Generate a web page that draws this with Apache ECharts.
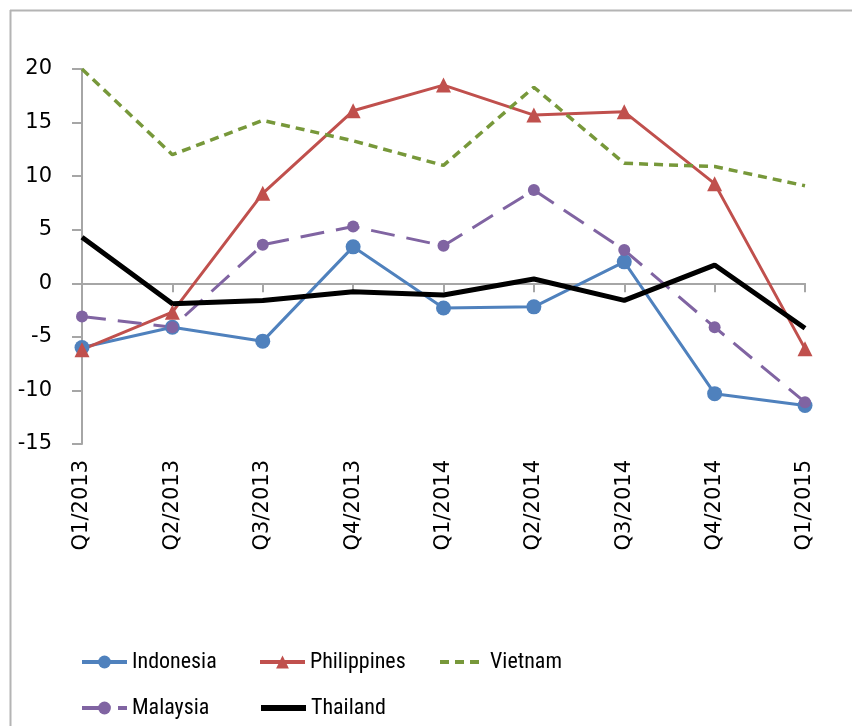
<!DOCTYPE html>
<html>
<head>
<meta charset="utf-8">
<script src="https://cdn.jsdelivr.net/npm/echarts@6/dist/echarts.min.js"></script>
<style>
  html, body { margin: 0; padding: 0; background: #fff; }
  #chart { width: 852px; height: 726px; }
</style>
</head>
<body>
<div id="chart"></div>
<script>
  // quarters on the x axis
  var quarters = ['Q1/2013', 'Q2/2013', 'Q3/2013', 'Q4/2013', 'Q1/2014', 'Q2/2014', 'Q3/2014', 'Q4/2014', 'Q1/2015']
  // values
  var indonesia = [-6.0, -4.1, -5.4, 3.4, -2.3, -2.2, 2.0, -10.3, -11.4]
  var philippines = [-6.2, -2.7, 8.4, 16.1, 18.5, 15.7, 16.0, 9.3, -6.1]
  var vietnam = [20.0, 12.0, 15.2, 13.3, 11.0, 18.3, 11.2, 10.9, 9.1]
  var malaysia = [-3.1, -4.1, 3.6, 5.3, 3.5, 8.7, 3.1, -4.1, -11.1]
  var thailand = [4.3, -1.9, -1.6, -0.8, -1.1, 0.4, -1.6, 1.7, -4.2]
  var yTicks = { min: -15, max: 20, step: 5 }

  var chart = echarts.init(document.getElementById('chart'))
  var axisGray = '#a6a6a6'
  var legendText = {
    fontFamily: '"Liberation Sans Narrow", "Roboto Condensed", Roboto, sans-serif',
    fontSize: 22,
    color: '#000'
  }

  // one legend per entry so the columns line up like the original
  function legendAt(name, left, top, lineWidth, noSymbol) {
    var item = { name: name, lineStyle: { width: lineWidth } }
    if (noSymbol) item.itemStyle = { opacity: 0 }
    return {
      left: left, top: top, padding: 0, itemWidth: 45, itemHeight: 16, itemGap: 5,
      data: [item], textStyle: legendText, selectedMode: false
    }
  }

  chart.setOption({
    animation: false,
    backgroundColor: '#fff',
    graphic: [
      { type: 'line', shape: { x1: 10, y1: 10.5, x2: 852, y2: 10.5 }, style: { stroke: '#b4b4b4', lineWidth: 2 } },
      { type: 'line', shape: { x1: 10.5, y1: 10, x2: 10.5, y2: 726 }, style: { stroke: '#b4b4b4', lineWidth: 2 } }
    ],
    grid: { left: 82, right: 47, top: 69, bottom: 282, containLabel: false },
    legend: [
      legendAt('Indonesia', 80, 651, 4),
      legendAt('Philippines', 258, 651, 4),
      legendAt('Vietnam', 438, 651, 4, true),
      legendAt('Malaysia', 80, 697, 4),
      legendAt('Thailand', 258, 697, 6, true)
    ],
    xAxis: [
      { // labels only, along the bottom
        type: 'category', data: quarters, boundaryGap: false, position: 'bottom',
        axisLine: { show: false, onZero: false }, axisTick: { show: false },
        axisLabel: { rotate: 90, margin: 16, fontFamily: '"DejaVu Sans", sans-serif', fontSize: 21, color: '#000' }
      },
      { // line and ticks crossing at zero
        type: 'category', data: quarters, boundaryGap: false, position: 'bottom',
        axisLine: { show: true, onZero: true, lineStyle: { color: axisGray, width: 2 } },
        axisTick: { show: true, length: 9, alignWithLabel: true, lineStyle: { color: axisGray, width: 2 } },
        axisLabel: { show: false }
      }
    ],
    yAxis: {
      type: 'value', min: yTicks.min, max: yTicks.max, interval: yTicks.step,
      axisLine: { show: true, lineStyle: { color: axisGray, width: 2 } },
      axisTick: { show: true, length: 10, lineStyle: { color: axisGray, width: 2 } },
      axisLabel: { margin: 30, fontFamily: '"DejaVu Sans", sans-serif', fontSize: 21, color: '#000' },
      splitLine: { show: false }
    },
    series: [
      {
        name: 'Indonesia', type: 'line', data: indonesia, xAxisIndex: 0,
        symbol: 'circle', symbolSize: 15, showAllSymbol: true,
        itemStyle: { color: '#4f81bd' }, lineStyle: { color: '#4f81bd', width: 3 }
      },
      {
        name: 'Philippines', type: 'line', data: philippines, xAxisIndex: 0,
        symbol: 'triangle', symbolSize: 15, showAllSymbol: true,
        itemStyle: { color: '#c0504d' }, lineStyle: { color: '#c0504d', width: 3 }
      },
      {
        name: 'Vietnam', type: 'line', data: vietnam, xAxisIndex: 0,
        symbol: 'none',
        itemStyle: { color: '#77983a' }, lineStyle: { color: '#77983a', width: 3.5, type: [9, 6] }
      },
      {
        name: 'Malaysia', type: 'line', data: malaysia, xAxisIndex: 0,
        symbol: 'circle', symbolSize: 12, showAllSymbol: true,
        itemStyle: { color: '#8064a2' }, lineStyle: { color: '#8064a2', width: 3, type: [24, 12] }
      },
      {
        name: 'Thailand', type: 'line', data: thailand, xAxisIndex: 0,
        symbol: 'none',
        itemStyle: { color: '#000' }, lineStyle: { color: '#000', width: 5 }
      }
    ]
  })
</script>
</body>
</html>
